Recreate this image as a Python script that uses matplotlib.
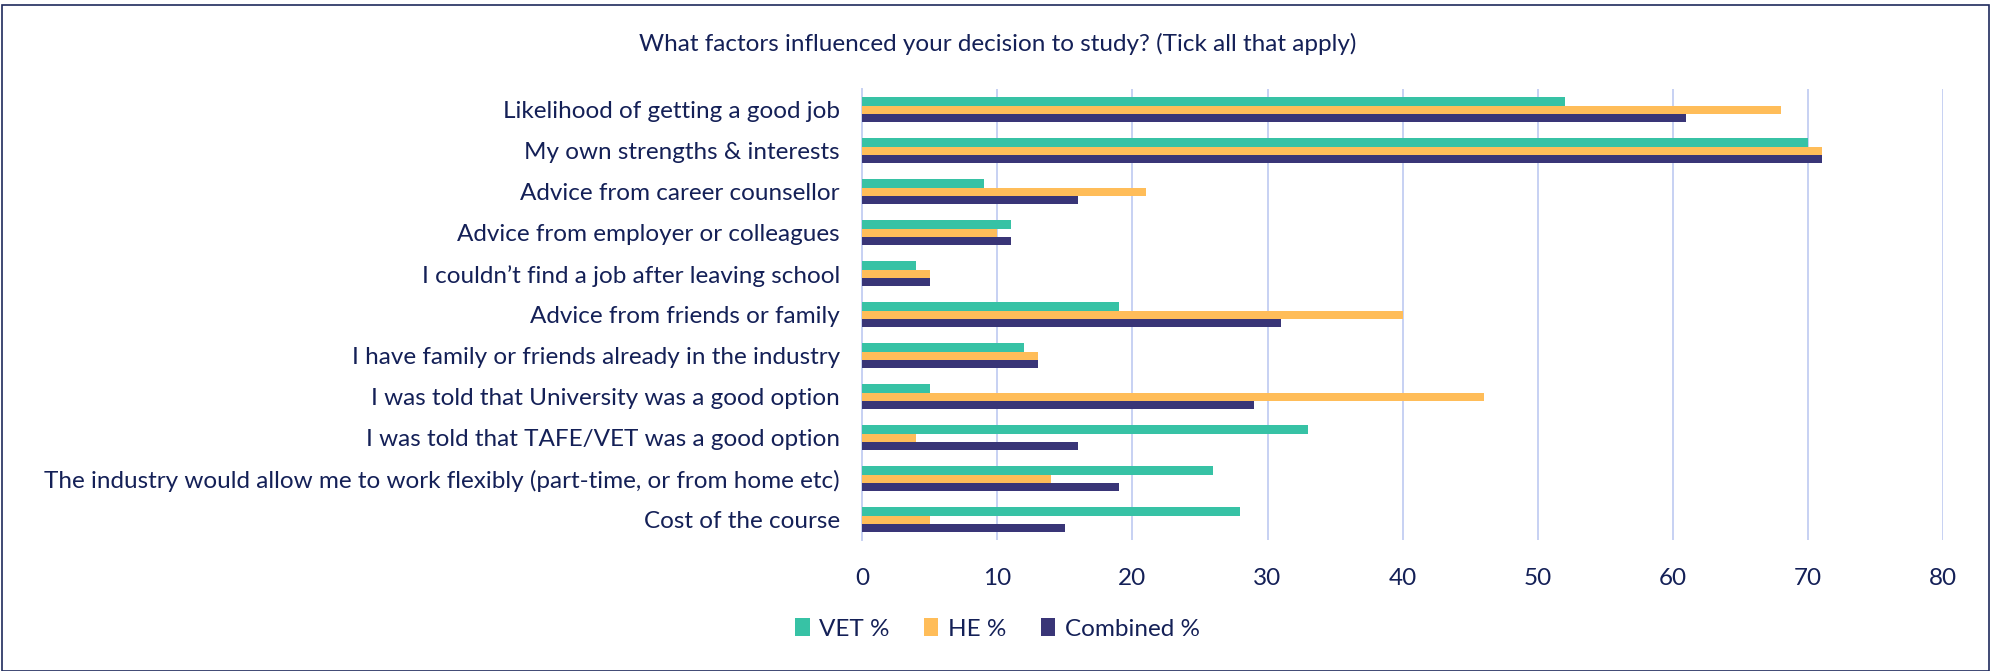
import numpy as np
import matplotlib.pyplot as plt
from matplotlib.patches import Rectangle

# Dados do gráfico
categorias = [
    "Likelihood of getting a good job",
    "My own strengths & interests",
    "Advice from career counsellor",
    "Advice from employer or colleagues",
    "I couldn\u2019t find a job after leaving school",
    "Advice from friends or family",
    "I have family or friends already in the industry",
    "I was told that University was a good option",
    "I was told that TAFE/VET was a good option",
    "The industry would allow me to work flexibly (part-time, or from home etc)",
    "Cost of the course",
]
vet = [52, 70, 9, 11, 4, 19, 12, 5, 33, 26, 28]
he = [68, 71, 21, 10, 5, 40, 13, 46, 4, 14, 5]
combinado = [61, 71, 16, 11, 5, 31, 13, 29, 16, 19, 15]
series = [("VET %", vet, "#37C2A5"), ("HE %", he, "#FFBD59"), ("Combined %", combinado, "#393577")]

COR_TEXTO = "#142057"

plt.rcParams["font.family"] = ["Lato", "DejaVu Sans"]

fig = plt.figure(figsize=(19.91, 6.71), dpi=100)
ax = fig.add_axes([0.433, 0.195, 0.543, 0.672])

y = np.arange(len(categorias))
altura = 0.2
for i, (nome, valores, cor) in enumerate(series):
    ax.barh(y + (i - 1) * altura, valores, height=altura, color=cor, label=nome, zorder=3)

ax.set_xlim(0, 80)
ax.set_ylim(len(categorias) - 0.5, -0.5)
ax.set_xticks(range(0, 81, 10))
ax.set_yticks(y)
ax.set_yticklabels(categorias)
ax.tick_params(axis="both", length=0, labelsize=17.5, colors=COR_TEXTO)
ax.tick_params(axis="x", pad=20)
ax.tick_params(axis="y", pad=16)
ax.grid(axis="x", color="#C7D1F3", linewidth=1.4, zorder=0)
for lado in ["top", "right", "bottom"]:
    ax.spines[lado].set_visible(False)
ax.spines["left"].set_color("#C7D1F3")
ax.spines["left"].set_linewidth(1.4)

fig.text(0.501, 0.934, "What factors influenced your decision to study? (Tick all that apply)",
         ha="center", va="center", fontsize=17.5, color=COR_TEXTO)

leg = fig.legend(loc="center", bbox_to_anchor=(0.501, 0.063), ncol=3, frameon=False,
                 fontsize=17.5, handlelength=0.6, handleheight=0.8, handletextpad=0.4, columnspacing=1.4)
for t in leg.get_texts():
    t.set_color(COR_TEXTO)

# Moldura
fig.patches.append(Rectangle((0.001, 0.0), 0.998, 0.993, transform=fig.transFigure,
                             fill=False, edgecolor="#1F2A5C", linewidth=1.2))

plt.savefig("out.png", dpi=100)
